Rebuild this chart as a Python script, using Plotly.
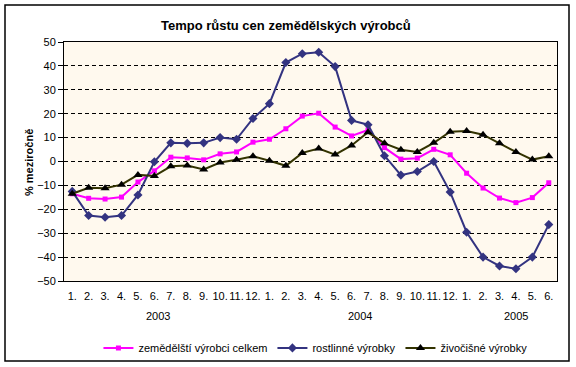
import plotly.graph_objects as go

months = ["1.", "2.", "3.", "4.", "5.", "6.", "7.", "8.", "9.", "10.", "11.", "12.",
          "1.", "2.", "3.", "4.", "5.", "6.", "7.", "8.", "9.", "10.", "11.", "12.",
          "1.", "2.", "3.", "4.", "5.", "6."]
years = ["2003", "2004", "2005"]
year_centers = [5.2, 17.5, 27.0]

celkem = [-13.5, -15.4, -15.7, -14.9, -8.6, -3.9, 1.8, 1.5, 0.7, 3.2, 4.0, 8.1,
          9.3, 13.7, 19.0, 20.2, 14.4, 10.7, 13.2, 5.8, 1.0, 1.4, 5.1, 2.8,
          -4.9, -11.1, -15.3, -17.2, -15.1, -8.9]
rostlinne = [-12.5, -22.6, -23.3, -22.6, -14.0, -0.1, 7.8, 7.6, 7.8, 10.0, 9.3, 18.0,
             24.2, 41.4, 45.1, 45.7, 39.7, 17.2, 15.4, 2.4, -5.7, -4.2, 0.0, -12.8,
             -29.6, -40.0, -43.7, -44.9, -40.0, -26.4]
zivocisne = [-13.5, -11.0, -11.2, -9.7, -5.6, -6.1, -2.0, -1.7, -3.3, -0.4, 0.7, 2.2,
             0.3, -1.8, 3.6, 5.4, 2.9, 6.7, 12.2, 7.6, 4.9, 4.0, 7.8, 12.5,
             12.8, 11.2, 7.6, 4.0, 0.8, 2.2]

x = list(range(len(months)))
FONT = "Liberation Sans, Arial, sans-serif"

fig = go.Figure()
fig.add_trace(go.Scatter(x=x, y=celkem, name="zemědělští výrobci celkem", mode="lines+markers",
                         line=dict(color="#FF00FF", width=2),
                         marker=dict(symbol="square", size=5, color="#FF00FF")))
fig.add_trace(go.Scatter(x=x, y=rostlinne, name="rostlinné výrobky", mode="lines+markers",
                         line=dict(color="#333380", width=2),
                         marker=dict(symbol="diamond", size=7, color="#333380")))
fig.add_trace(go.Scatter(x=x, y=zivocisne, name="živočišné výrobky", mode="lines+markers",
                         line=dict(color="#333300", width=2),
                         marker=dict(symbol="triangle-up", size=8, color="#000000")))

for yr, xc in zip(years, year_centers):
    fig.add_annotation(x=xc, y=(281 - 316) / 239, xref="x", yref="paper", text=yr, showarrow=False,
                       font=dict(family=FONT, size=11, color="black"), yanchor="middle")

fig.add_annotation(x=(286 - 64) / 493, y=1.0 + (42 - 25) / 239, xref="paper", yref="paper",
                   text="<b>Tempo růstu cen zemědělských výrobců</b>", showarrow=False,
                   font=dict(family=FONT, size=13, color="black"), yanchor="middle",
                   xanchor="center")
fig.add_annotation(x=(29 - 64) / 493, y=0.5 - (163 - 161.5) / 239, xref="paper", yref="paper",
                   text="<b>% meziročně</b>", showarrow=False, textangle=-90,
                   font=dict(family=FONT, size=11, color="black"), xanchor="center", yanchor="middle")

# outer chart border
fig.add_shape(type="rect", xref="paper", yref="paper",
              x0=(5 - 64) / 493, x1=(569 - 64) / 493,
              y0=(281 - 361) / 239, y1=(281 - 5) / 239,
              line=dict(color="black", width=1.5), fillcolor="rgba(0,0,0,0)", layer="below")

fig.update_layout(
    width=576, height=367,
    margin=dict(l=64, r=19, t=42, b=86, autoexpand=False),
    paper_bgcolor="white", plot_bgcolor="#FFF9EE",
    font=dict(family=FONT, size=11, color="black"),
    showlegend=True,
    legend=dict(orientation="h", x=0.51, xanchor="center", y=-0.28, yanchor="middle",
                font=dict(family=FONT, size=11, color="black"), itemwidth=30,
                bgcolor="rgba(0,0,0,0)", tracegroupgap=0),
)
fig.update_xaxes(range=[-0.5, 29.5], tickmode="array", tickvals=x, ticktext=months,
                 tickangle=0, showgrid=False, zeroline=False, showline=True, mirror=True,
                 linecolor="black", linewidth=1, ticks="", tickfont=dict(size=11),
                 ticklabelstandoff=5, fixedrange=True)
fig.update_yaxes(range=[-50, 50], dtick=10, tick0=-50, showgrid=True, gridcolor="black",
                 griddash="4px,3px", gridwidth=1, zeroline=False, showline=True, mirror=True,
                 linecolor="black", linewidth=1, ticks="outside", ticklen=5, tickcolor="black",
                 tickfont=dict(size=11), fixedrange=True)

fig.write_html("out.html", config={"displayModeBar": False},
               post_script="document.body.style.margin='0';document.body.style.overflow='hidden';")
